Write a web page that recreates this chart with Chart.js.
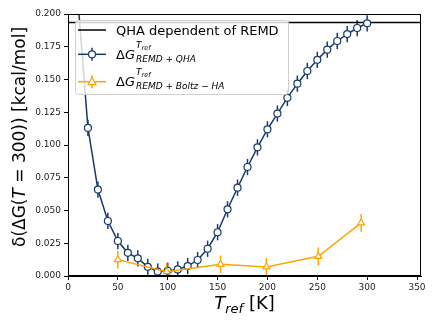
<!DOCTYPE html>
<html>
<head>
<meta charset="utf-8">
<script src="https://cdn.jsdelivr.net/npm/chart.js@4/dist/chart.umd.min.js"></script>
<style>
  body { margin: 0; background: #fff; }
  canvas { display: block; }
</style>
</head>
<body>
<canvas id="c" width="436" height="327"></canvas>
<script>
// reference temperatures [K] and deviations [kcal/mol]
const tempsQHA = [10, 20, 30, 40, 50, 60, 70, 80, 90, 100, 110, 120, 130, 140, 150,
  160, 170, 180, 190, 200, 210, 220, 230, 240, 250, 260, 270, 280, 290, 300];
const dgQHA = [0.210, 0.113, 0.066, 0.042, 0.0267, 0.0177, 0.0135, 0.0070, 0.0034, 0.0040,
  0.0050, 0.0076, 0.0122, 0.0208, 0.0334, 0.0509, 0.0674, 0.0832, 0.0982, 0.1120,
  0.1240, 0.1360, 0.1468, 0.1565, 0.1650, 0.1728, 0.1794, 0.1847, 0.1893, 0.1929];
const errQHA = tempsQHA.map(() => 0.0062);

const tempsHA = [50, 99, 153, 199, 251, 294];
const dgHA = [0.0125, 0.0033, 0.0089, 0.0069, 0.0150, 0.0405];
const errHA = [0.0068, 0.0068, 0.0068, 0.0068, 0.0068, 0.0068];

const qhaLevel = 0.1935;
const xLimits = [0, 354];
const yLimits = [0, 0.2];
const yTicks = [0, 0.025, 0.05, 0.075, 0.1, 0.125, 0.15, 0.175, 0.2];

const NAVY = "#173a6b";
const ORANGE = "#ffa500";
const FONT = "'DejaVu Sans', sans-serif";

const toPoints = (xs, ys) => xs.map((x, i) => ({ x, y: ys[i] }));

function drawRich(ctx, parts, x, y) {
  let cx = x;
  for (const p of parts) {
    ctx.font = (p.italic ? "italic " : "") + p.size + "px " + FONT;
    ctx.fillText(p.t, cx, y + (p.dy || 0));
    cx += ctx.measureText(p.t).width;
  }
  return cx - x;
}
function richWidth(ctx, parts) {
  let w = 0;
  for (const p of parts) {
    ctx.font = (p.italic ? "italic " : "") + p.size + "px " + FONT;
    w += ctx.measureText(p.t).width;
  }
  return w;
}

const errorBars = {
  id: "errorBars",
  beforeDatasetsDraw(chart) {
    const { ctx, chartArea: a, scales } = chart;
    ctx.save();
    ctx.beginPath();
    ctx.rect(a.left, a.top, a.right - a.left, a.bottom - a.top);
    ctx.clip();
    chart.data.datasets.forEach(ds => {
      if (!ds.errors) return;
      ctx.strokeStyle = ds.borderColor;
      ctx.lineWidth = 1.5;
      ds.data.forEach((p, i) => {
        const px = scales.x.getPixelForValue(p.x);
        ctx.beginPath();
        ctx.moveTo(px, scales.y.getPixelForValue(p.y - ds.errors[i]));
        ctx.lineTo(px, scales.y.getPixelForValue(p.y + ds.errors[i]));
        ctx.stroke();
      });
    });
    ctx.restore();
  }
};

const decorations = {
  id: "decorations",
  afterDraw(chart) {
    const { ctx, chartArea: a } = chart;
    ctx.save();
    // frame
    ctx.strokeStyle = "#000";
    ctx.lineWidth = 1;
    ctx.strokeRect(Math.round(a.left) + 0.5, Math.round(a.top) + 0.5,
      Math.round(a.right - a.left) - 1, Math.round(a.bottom - a.top) - 1);

    // legend
    const lx = 75, ly = 20, lw = 213, lh = 74, r = 3;
    ctx.beginPath();
    ctx.roundRect(lx + 0.5, ly + 0.5, lw, lh, r);
    ctx.fillStyle = "rgba(255,255,255,0.8)";
    ctx.fill();
    ctx.strokeStyle = "#d0d0d0";
    ctx.stroke();

    const hx0 = 78, hx1 = 106, hc = 92, tx = 116;
    // entry 1
    ctx.strokeStyle = "#000";
    ctx.lineWidth = 1.5;
    ctx.beginPath(); ctx.moveTo(hx0, 30); ctx.lineTo(hx1, 30); ctx.stroke();
    ctx.fillStyle = "#000";
    ctx.textBaseline = "alphabetic";
    drawRich(ctx, [{ t: "QHA dependent of REMD", size: 13 }], tx, 34.5);

    // entry 2 and 3
    const entries = [
      { y: 54.3, color: NAVY, marker: "circle", sub: "REMD + QHA" },
      { y: 81.7, color: ORANGE, marker: "triangle", sub: "REMD + Boltz \u2212 HA" }
    ];
    entries.forEach(e => {
      ctx.strokeStyle = e.color;
      ctx.lineWidth = 1.5;
      ctx.beginPath(); ctx.moveTo(hx0, e.y); ctx.lineTo(hx1, e.y); ctx.stroke();
      ctx.beginPath(); ctx.moveTo(hc, e.y - 6.5); ctx.lineTo(hc, e.y + 6.5); ctx.stroke();
      ctx.fillStyle = "#fff";
      ctx.lineWidth = 1.2;
      ctx.beginPath();
      if (e.marker === "circle") {
        ctx.arc(hc, e.y, 3.5, 0, Math.PI * 2);
      } else {
        ctx.moveTo(hc, e.y - 4.5); ctx.lineTo(hc + 4, e.y + 3); ctx.lineTo(hc - 4, e.y + 3); ctx.closePath();
      }
      ctx.fill(); ctx.stroke();
      ctx.fillStyle = "#000";
      const base = e.y + 4.7;
      const w = drawRich(ctx, [{ t: "\u0394", size: 13 }, { t: "G", size: 13, italic: true }], tx, base);
      const sx = tx + w + 1;
      drawRich(ctx, [{ t: "T", size: 9, italic: true, dy: -11 }, { t: "ref", size: 6.5, italic: true, dy: -9 }], sx, base);
      drawRich(ctx, [{ t: e.sub, size: 9, italic: true, dy: 2.8 }], sx, base);
    });

    // x axis title
    ctx.fillStyle = "#000";
    const xParts = [{ t: "T", size: 18, italic: true }, { t: "ref", size: 13, italic: true, dy: 4 }, { t: " [K]", size: 18 }];
    const xw = richWidth(ctx, xParts);
    drawRich(ctx, xParts, (a.left + a.right) / 2 - xw / 2, 308.5);

    // y axis title
    const yParts = [{ t: "\u03b4(\u0394G(", size: 17 },
      { t: "T", size: 17, italic: true }, { t: " = 300)) [kcal/mol]", size: 17 }];
    const yw = richWidth(ctx, yParts);
    ctx.translate(25, 137);
    ctx.rotate(-Math.PI / 2);
    drawRich(ctx, yParts, -yw / 2, 0);
    ctx.restore();
  }
};

new Chart(document.getElementById("c"), {
  type: "scatter",
  data: {
    datasets: [
      {
        label: "QHA dependent of REMD",
        data: toPoints(xLimits, [qhaLevel, qhaLevel]),
        showLine: true,
        borderColor: "#000",
        borderWidth: 1.5,
        pointRadius: 0,
        order: 3
      },
      {
        label: "REMD + QHA",
        data: toPoints(tempsQHA, dgQHA),
        errors: errQHA,
        showLine: true,
        borderColor: NAVY,
        borderWidth: 1.5,
        backgroundColor: "#fff",
        pointRadius: 3.5,
        pointBorderWidth: 1.2,
        pointStyle: "circle",
        order: 2
      },
      {
        label: "REMD + Boltz - HA",
        data: toPoints(tempsHA, dgHA),
        errors: errHA,
        showLine: true,
        borderColor: ORANGE,
        borderWidth: 1.5,
        backgroundColor: "#fff",
        pointRadius: 4,
        pointBorderWidth: 1.2,
        pointStyle: "triangle",
        order: 1
      }
    ]
  },
  options: {
    responsive: false,
    animation: false,
    devicePixelRatio: 1,
    layout: { padding: { top: 14, right: 15, left: 0, bottom: 0 } },
    plugins: { legend: { display: false }, tooltip: { enabled: false } },
    scales: {
      x: {
        type: "linear",
        min: xLimits[0],
        max: xLimits[1],
        afterFit: s => { s.height = 51; },
        grid: { drawOnChartArea: false, drawTicks: true, tickLength: 4, color: "#000" },
        border: { display: true, color: "#000", width: 1 },
        ticks: { stepSize: 50, includeBounds: false, padding: 2, color: "#222", font: { family: FONT, size: 9 } }
      },
      y: {
        type: "linear",
        min: yLimits[0],
        max: yLimits[1],
        afterFit: s => { s.width = 68; },
        afterBuildTicks: s => { s.ticks = yTicks.map(v => ({ value: v })); },
        grid: { drawOnChartArea: false, drawTicks: true, tickLength: 4, color: "#000" },
        border: { display: true, color: "#000", width: 1 },
        ticks: { padding: 3, color: "#222", font: { family: FONT, size: 9 }, callback: v => v.toFixed(3) }
      }
    }
  },
  plugins: [errorBars, decorations]
});
</script>
</body>
</html>
